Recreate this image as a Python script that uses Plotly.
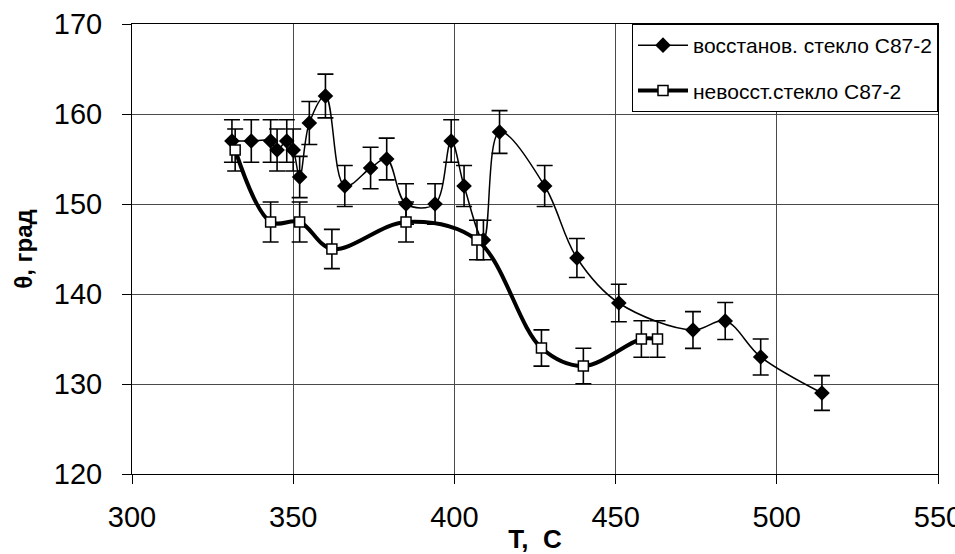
import plotly.graph_objects as go

# Contact angle vs. temperature for reduced and non-reduced glass C87-2
t_reduced = [331, 337, 343, 345, 348, 350, 352, 355, 360, 366, 374, 379, 385, 394,
             399, 403, 409, 414, 428, 438, 451, 474, 484, 495, 514]
theta_reduced = [157, 157, 157, 156, 157, 156, 153, 159, 162, 152, 154, 155, 150, 150,
                 157, 152, 146, 158, 152, 144, 139, 136, 137, 133, 129]

t_plain = [332, 343, 352, 362, 385, 407, 427, 440, 458, 463]
theta_plain = [156, 148, 148, 145, 148, 146, 134, 132, 135, 135]

name_reduced = "восстанов. стекло С87-2"
name_plain = "невосст.стекло С87-2"

x_ticks = [300, 350, 400, 450, 500, 550]
y_ticks = [120, 130, 140, 150, 160, 170]

err_pct = 1.5  # measurement error, % of value

font_family = "Liberation Sans, Arial, sans-serif"

fig = go.Figure()

fig.add_trace(go.Scatter(
    x=t_reduced, y=theta_reduced, name=name_reduced,
    mode="lines+markers",
    line=dict(color="black", width=1.5, shape="spline", smoothing=1.0),
    marker=dict(symbol="diamond", size=12, color="black"),
    error_y=dict(type="percent", value=err_pct, color="black", thickness=1.6, width=8),
    legendgroup="a",
))

fig.add_trace(go.Scatter(
    x=t_plain, y=theta_plain, name=name_plain,
    mode="lines+markers",
    line=dict(color="black", width=4, shape="spline", smoothing=1.0),
    marker=dict(symbol="square", size=10, color="white",
                line=dict(color="black", width=1.5)),
    error_y=dict(type="percent", value=err_pct, color="black", thickness=1.6, width=8),
    legendgroup="b",
))

axis_common = dict(
    showline=True, linecolor="black", linewidth=1, mirror=True,
    showgrid=True, gridcolor="#4a4a4a", gridwidth=1,
    ticks="outside", ticklen=9, tickcolor="black", tickwidth=1,
    tickfont=dict(family=font_family, size=29, color="black"),
    ticklabeloverflow="allow",
    automargin=False,
    zeroline=False,
)

fig.update_layout(
    width=955, height=554,
    margin=dict(l=132, r=17, t=24, b=80),
    paper_bgcolor="white", plot_bgcolor="white",
    font=dict(family=font_family, color="black"),
    xaxis=dict(
        range=[300, 550], tickvals=x_ticks, ticklabelstandoff=8,
        title=dict(text="<b>T,\u00a0\u00a0C</b>", font=dict(size=26), standoff=8),
        **axis_common,
    ),
    yaxis=dict(
        range=[120, 170], tickvals=y_ticks, ticklabelstandoff=14,
        title=dict(text="<b>θ, град</b>", font=dict(size=24), standoff=14),
        **axis_common,
    ),
    legend=dict(
        x=1, xanchor="right", y=1, yanchor="top",
        bgcolor="white", bordercolor="black", borderwidth=1,
        font=dict(family=font_family, size=21, color="black"),
        tracegroupgap=15, traceorder="grouped",
        itemwidth=50,
    ),
    showlegend=True,
)

fig.write_html("out.html")
